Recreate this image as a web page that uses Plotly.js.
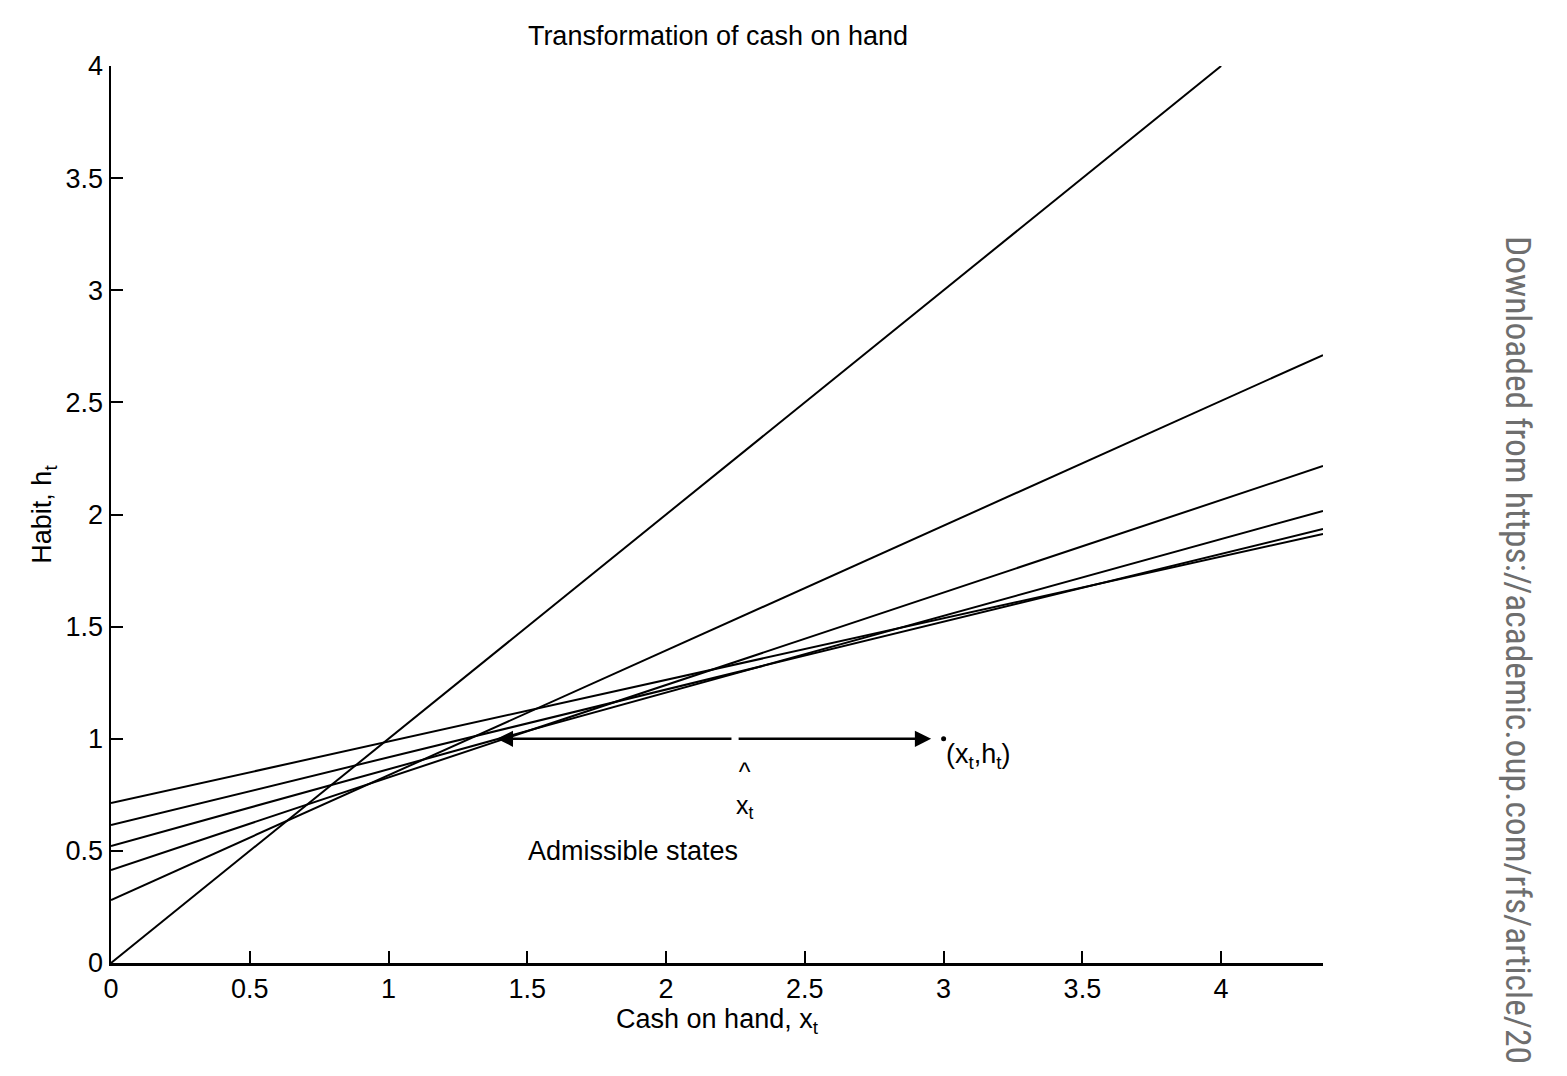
<!DOCTYPE html>
<html>
<head>
<meta charset="utf-8">
<script src="https://cdn.plot.ly/plotly-3.0.1.min.js"></script>
<style>html,body{margin:0;padding:0;background:#fff;}#chart{width:1567px;height:1076px;}</style>
</head>
<body>
<div id="chart"></div>
<script>
// Straight lines of the transformation: endpoints at x = 0 and x = xMax
const xMax = 4.367;
const lineStarts = [0.0, 0.281, 0.415, 0.522, 0.615, 0.713];
const lineEnds   = [4.367, 2.711, 2.216, 2.016, 1.935, 1.913];
// The slope-one line ends at the top of the axis
const firstLineEndX = 4.0;
const firstLineEndY = 4.0;
// Arrow and point
const pointX = 3.0, pointY = 1.0;
const arrowLeftTip = 1.39, arrowSplitL = 2.241, arrowSplitR = 2.256, arrowRightTip = 2.955;
const xTicks = [0, 0.5, 1, 1.5, 2, 2.5, 3, 3.5, 4];
const yTicks = [0, 0.5, 1, 1.5, 2, 2.5, 3, 3.5, 4];

const FONT = 'Liberation Sans, Arial, sans-serif';
const FS = 27;
const traces = lineStarts.map((s, i) => ({
  type: 'scatter', mode: 'lines',
  x: i === 0 ? [0, firstLineEndX] : [0, xMax],
  y: i === 0 ? [s, firstLineEndY] : [s, lineEnds[i]],
  line: {color: '#000', width: 2}, hoverinfo: 'skip', showlegend: false
}));
traces.push({type: 'scatter', mode: 'markers', x: [pointX], y: [pointY],
  marker: {color: '#000', size: 5}, showlegend: false, hoverinfo: 'skip'});

// plot area in pixels: left 111, right 1323, top 66, bottom 963
const px2paperX = p => (p - 111) / (1323 - 111);
const px2paperY = p => (963 - p) / (963 - 66);

const annotations = [
  {x: arrowLeftTip, y: pointY, ax: arrowSplitL, ay: pointY, xref: 'x', yref: 'y', axref: 'x', ayref: 'y',
   showarrow: true, arrowhead: 2, arrowsize: 1.3, arrowwidth: 2.5, arrowcolor: '#000', text: ''},
  {x: arrowRightTip, y: pointY, ax: arrowSplitR, ay: pointY, xref: 'x', yref: 'y', axref: 'x', ayref: 'y',
   showarrow: true, arrowhead: 2, arrowsize: 1.3, arrowwidth: 2.5, arrowcolor: '#000', text: ''},
  {x: 3.0, y: 0.925, xref: 'x', yref: 'y', xanchor: 'left', yanchor: 'middle', showarrow: false,
   text: '(x<sub>t</sub>,h<sub>t</sub>)', font: {family: FONT, size: FS, color: '#000'}},
  {x: 2.285, y: 0.77, xref: 'x', yref: 'y', showarrow: false, text: '^<br>x<sub>t</sub>',
   font: {family: FONT, size: 25, color: '#000'}},
  {x: 1.88, y: 0.5, xref: 'x', yref: 'y', showarrow: false, text: 'Admissible states',
   font: {family: FONT, size: FS, color: '#000'}},
  {x: px2paperX(1518), y: px2paperY(234), xref: 'paper', yref: 'paper', xanchor: 'center', yanchor: 'top',
   showarrow: false, textangle: 90,
   text: 'Downloaded from https://academic.oup.com/rfs/article/20',
   font: {family: 'Roboto Condensed, sans-serif', size: 35.5, color: '#6e6e6e'}}
];

const layout = {
  width: 1567, height: 1076,
  margin: {l: 111, r: 244, t: 66, b: 113, pad: 0},
  paper_bgcolor: '#fff', plot_bgcolor: '#fff',
  title: {text: 'Transformation of cash on hand', x: 718/1567, xanchor: 'center', y: 1 - 36/1076, yanchor: 'middle',
          font: {family: FONT, size: FS, color: '#000'}},
  xaxis: {range: [0, xMax], tickvals: xTicks, ticktext: xTicks.map(String), ticks: 'inside', ticklen: 12, tickwidth: 2,
          tickcolor: '#000', showline: true, linecolor: '#000', linewidth: 2.5, showgrid: false, zeroline: false,
          tickfont: {family: FONT, size: FS, color: '#000'},
          title: {text: 'Cash on hand, x<sub>t</sub>', font: {family: FONT, size: FS, color: '#000'}, standoff: 4}},
  yaxis: {range: [0, 4], tickvals: yTicks, ticktext: yTicks.map(String), ticks: 'inside', ticklen: 12, tickwidth: 2,
          tickcolor: '#000', showline: true, linecolor: '#000', linewidth: 2.5, showgrid: false, zeroline: false,
          tickfont: {family: FONT, size: FS, color: '#000'},
          title: {text: 'Habit, h<sub>t</sub>', font: {family: FONT, size: FS, color: '#000'}, standoff: 6}},
  annotations: annotations,
  showlegend: false
};
Plotly.newPlot('chart', traces, layout, {displayModeBar: false, staticPlot: true});
</script>
</body>
</html>
